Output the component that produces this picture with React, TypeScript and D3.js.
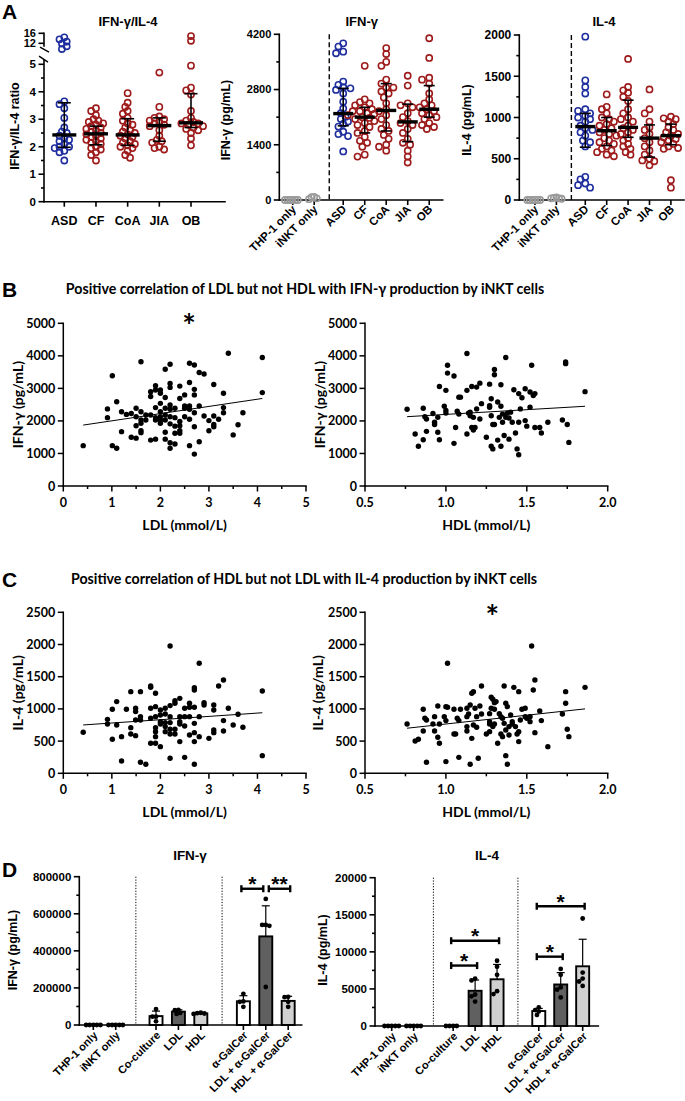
import React from 'react';
import * as d3 from 'd3';

const arial = "'Liberation Sans', Arial, sans-serif";
const cal = "Lato, 'Open Sans', sans-serif";
const BLUE = '#1f2e9e';
const RED = '#9e1b1b';
const GREY = '#9a9a9a';

// ---------- panel A ----------
const groupsA = ['ASD', 'CF', 'CoA', 'JIA', 'OB'];
const ctrlA = ['THP-1 only', 'iNKT only'];

const ratioASD = [14.4, 13.6, 12.7, 11.9, 10.8, 9.7, 3.65, 3.55, 3.4, 3.05, 2.7, 2.55, 2.5, 2.4, 2.3, 2.25, 2.2, 2.1, 2.0, 2.0, 1.95, 1.85, 1.8, 1.5];
const ratioCF = [3.4, 3.3, 3.15, 3.0, 2.95, 2.9, 2.85, 2.8, 2.75, 2.7, 2.65, 2.6, 2.55, 2.5, 2.45, 2.4, 2.35, 2.3, 2.25, 2.2, 2.15, 2.1, 2.0, 1.95, 1.9, 1.8, 1.7, 1.5];
const ratioCoA = [3.95, 3.6, 3.45, 3.3, 3.2, 3.05, 2.95, 2.85, 2.8, 2.7, 2.6, 2.55, 2.5, 2.45, 2.4, 2.35, 2.3, 2.2, 2.15, 2.1, 2.05, 2.0, 1.95, 1.85, 1.7, 1.6];
const ratioJIA = [4.7, 3.45, 3.1, 3.05, 3.0, 2.95, 2.9, 2.85, 2.8, 2.75, 2.6, 2.4, 2.25, 2.2, 2.15, 2.0, 1.95, 1.9];
const ratioOB = [14.9, 13.0, 4.95, 4.15, 4.05, 3.9, 3.3, 3.05, 2.95, 2.9, 2.85, 2.85, 2.8, 2.75, 2.7, 2.65, 2.6, 2.5, 2.3, 2.05];
const ratioMed = [2.43, 2.47, 2.43, 2.77, 2.87];
const ratioQ1 = [1.98, 2.07, 2.05, 2.2, 2.7];
const ratioQ3 = [3.6, 2.75, 3.02, 3.05, 3.93];

const ifnTHP = [0, 0, 0, 0, 0, 0];
const ifnINKT = [20, 40, 70, 80];
const ifnASD = [3970, 3890, 3760, 3720, 3000, 2920, 2860, 2830, 2790, 2700, 2490, 2320, 2200, 2110, 2050, 1990, 1930, 1860, 1730, 1670, 1620, 1230];
const ifnCF = [3400, 2550, 2480, 2450, 2400, 2350, 2300, 2250, 2250, 2200, 2180, 2150, 2100, 2080, 2050, 2000, 1950, 1900, 1850, 1750, 1700, 1600, 1500, 1450, 1350, 1150, 1100];
const ifnCoA = [3850, 3700, 3500, 3400, 3050, 2950, 2850, 2850, 2750, 2700, 2600, 2450, 2300, 2250, 2150, 2050, 1900, 1800, 1750, 1650, 1550, 1400, 1350, 1250];
const ifnJIA = [3150, 2900, 2450, 2400, 2350, 2200, 2100, 2000, 1950, 1900, 1800, 1700, 1550, 1450, 1400, 1250, 1100, 950];
const ifnOB = [4100, 3600, 3100, 3050, 2950, 2700, 2550, 2450, 2400, 2350, 2300, 2250, 2200, 2150, 2100, 2050, 1950, 1900, 1850, 1800];
const ifnMed = [2190, 2100, 2270, 1980, 2300];
const ifnQ1 = [1880, 1700, 1750, 1480, 2100];
const ifnQ3 = [2830, 2350, 2950, 2430, 2900];

const il4THP = [0, 0, 0, 0, 0, 0];
const il4INKT = [15, 20, 25, 30, 20];
const il4ASD = [1980, 1450, 1370, 1290, 1100, 1080, 1050, 1020, 1000, 980, 950, 900, 870, 850, 820, 780, 720, 700, 650, 280, 250, 200, 180, 150];
const il4CF = [1280, 1130, 1100, 1050, 1000, 980, 950, 920, 900, 870, 850, 820, 800, 780, 750, 720, 700, 680, 650, 620, 600, 580, 550, 530];
const il4CoA = [1710, 1370, 1330, 1300, 1250, 1200, 1100, 1050, 1000, 980, 950, 900, 870, 850, 820, 800, 750, 720, 680, 650, 620, 580, 550];
const il4JIA = [1340, 1100, 1050, 950, 880, 850, 800, 750, 700, 650, 600, 550, 500, 480, 470, 420];
const il4OB = [1010, 990, 980, 950, 920, 880, 850, 820, 800, 780, 760, 740, 720, 700, 680, 650, 630, 620, 240, 150];
const il4Med = [890, 840, 880, 750, 780];
const il4Q1 = [640, 660, 760, 520, 670];
const il4Q3 = [1050, 1000, 1210, 910, 920];

// ---------- panels B / C : [mmol/L, pg/mL] ----------
const ldlIfn = [
  [0.41, 1240], [0.91, 2370], [0.91, 2100], [1.01, 3390], [1.01, 1240], [1.1, 2590], [1.1, 1160], [1.2, 2280], [1.2, 1670],
  [1.3, 2200], [1.4, 2230], [1.4, 1500], [1.5, 2390], [1.5, 2130], [1.5, 1850], [1.5, 1470], [1.6, 3820], [1.6, 2280],
  [1.6, 2030], [1.6, 1930], [1.6, 1700], [1.6, 1640], [1.7, 2180], [1.7, 2030], [1.8, 2900], [1.8, 2750], [1.8, 2180],
  [1.8, 1410], [1.9, 3080], [1.9, 2950], [1.9, 2410], [1.9, 2100], [1.9, 2030], [1.9, 1440], [2.0, 2950], [2.0, 2850],
  [2.0, 2540], [2.0, 2280], [2.0, 2130], [2.0, 2030], [2.0, 1930], [2.1, 3590], [2.1, 2720], [2.1, 2390], [2.1, 2180],
  [2.1, 2030], [2.1, 1650], [2.1, 1440], [2.2, 3740], [2.2, 3150], [2.2, 3030], [2.2, 2490], [2.2, 2360], [2.2, 2130],
  [2.2, 1910], [2.2, 1330], [2.2, 1160], [2.3, 2390], [2.3, 2100], [2.3, 1840], [2.3, 1620], [2.3, 1290], [2.4, 3070],
  [2.4, 2690], [2.4, 1980], [2.4, 1850], [2.4, 1700], [2.4, 1620], [2.5, 2800], [2.5, 2460], [2.5, 2390], [2.5, 2130],
  [2.6, 3770], [2.6, 3180], [2.6, 2460], [2.6, 2360], [2.6, 2050], [2.6, 1240], [2.7, 3720], [2.7, 2970], [2.7, 2800],
  [2.7, 2250], [2.7, 1820], [2.7, 980], [2.8, 3490], [2.8, 2460], [2.8, 1360], [2.9, 3440], [2.9, 2150], [3.0, 2010],
  [3.0, 1700], [3.1, 3120], [3.1, 2150], [3.1, 1890], [3.1, 1820], [3.2, 2050], [3.3, 2850], [3.3, 2410], [3.3, 2250],
  [3.4, 4080], [3.5, 1570], [3.6, 1880], [3.7, 2250], [4.1, 3950], [4.1, 2870],
];
const hdlIfn = [
  [0.76, 2360], [0.81, 1600], [0.83, 1220], [0.86, 1420], [0.86, 2390], [0.87, 2130], [0.88, 2060], [0.88, 1680],
  [0.92, 2230], [0.93, 1960], [0.93, 1890], [0.95, 1650], [0.95, 2110], [0.96, 3060], [0.96, 1420], [0.99, 2450],
  [1.0, 2940], [1.0, 2320], [1.0, 2240], [1.01, 3710], [1.01, 3470], [1.05, 3380], [1.05, 1310], [1.06, 1800],
  [1.07, 2300], [1.08, 2730], [1.09, 2730], [1.08, 2210], [1.13, 2940], [1.13, 4070], [1.13, 1600], [1.14, 2240],
  [1.15, 2160], [1.15, 2270], [1.16, 1800], [1.16, 3060], [1.17, 2110], [1.17, 1720], [1.18, 1800], [1.19, 2370],
  [1.19, 3040], [1.21, 3160], [1.21, 2060], [1.22, 2530], [1.25, 1500], [1.27, 3130], [1.27, 2470], [1.27, 2420],
  [1.28, 2680], [1.28, 2160], [1.28, 1220], [1.29, 1890], [1.29, 1140], [1.3, 3420], [1.3, 3580], [1.3, 1890],
  [1.32, 2580], [1.32, 1410], [1.33, 2110], [1.34, 2450], [1.34, 3110], [1.34, 1220], [1.35, 2210], [1.35, 1960],
  [1.36, 1550], [1.37, 3950], [1.37, 2110], [1.38, 2240], [1.39, 2090], [1.39, 1440], [1.4, 2270], [1.41, 1960],
  [1.42, 2960], [1.43, 1630], [1.44, 1140], [1.45, 1960], [1.45, 960], [1.45, 2840], [1.46, 2370], [1.47, 2710],
  [1.49, 2990], [1.49, 2010], [1.5, 1840], [1.52, 2420], [1.52, 2890], [1.53, 3710], [1.54, 2780], [1.55, 2840],
  [1.55, 1800], [1.58, 1800], [1.59, 1630], [1.63, 1960], [1.72, 2030], [1.74, 3810], [1.74, 3760], [1.75, 1890],
  [1.76, 1340], [1.86, 2900],
];
const ldlIl4 = [
  [0.41, 637], [0.91, 838], [0.91, 766], [1.01, 994], [1.01, 528], [1.1, 1113], [1.1, 750], [1.2, 569], [1.2, 192],
  [1.3, 994], [1.39, 1268], [1.39, 709], [1.39, 611], [1.49, 1009], [1.49, 958], [1.49, 828], [1.49, 585], [1.59, 1268],
  [1.59, 880], [1.59, 828], [1.59, 171], [1.7, 140], [1.8, 1356], [1.8, 1335], [1.8, 1009], [1.8, 854], [1.8, 466],
  [1.9, 1242], [1.9, 1035], [1.9, 880], [1.9, 709], [1.9, 647], [1.9, 569], [1.9, 466], [2.0, 983], [2.0, 906],
  [2.0, 802], [2.0, 766], [2.0, 414], [2.1, 1009], [2.1, 921], [2.1, 787], [2.1, 725], [2.1, 647], [2.2, 1977],
  [2.2, 1051], [2.2, 880], [2.2, 787], [2.2, 683], [2.2, 611], [2.2, 233], [2.3, 1128], [2.3, 1087], [2.3, 683],
  [2.3, 611], [2.4, 1164], [2.4, 880], [2.4, 802], [2.4, 766], [2.4, 492], [2.5, 1009], [2.5, 880], [2.5, 735],
  [2.5, 248], [2.6, 1087], [2.6, 1025], [2.6, 880], [2.6, 595], [2.7, 1330], [2.7, 1294], [2.7, 1025], [2.7, 776],
  [2.7, 631], [2.7, 492], [2.7, 140], [2.8, 1708], [2.8, 880], [2.8, 569], [2.9, 1097], [2.9, 1061], [3.0, 543],
  [3.1, 1061], [3.1, 983], [3.1, 673], [3.1, 631], [3.2, 1356], [3.3, 1449], [3.3, 818], [3.3, 657], [3.4, 1009],
  [3.5, 750], [3.6, 916], [3.7, 714], [4.1, 1278], [4.1, 274],
];
const hdlIl4 = [
  [0.76, 766], [0.81, 502], [0.83, 528], [0.86, 994], [0.86, 657], [0.87, 854], [0.88, 828], [0.88, 171], [0.92, 766],
  [0.93, 880], [0.93, 657], [0.95, 1045], [0.95, 559], [0.96, 466], [0.96, 766], [0.99, 880], [1.0, 1035], [1.0, 818],
  [1.0, 181], [1.01, 1708], [1.01, 1025], [1.05, 994], [1.05, 611], [1.06, 611], [1.07, 854], [1.08, 818], [1.08, 248],
  [1.09, 994], [1.13, 1009], [1.13, 880], [1.13, 725], [1.13, 657], [1.14, 921], [1.15, 1061], [1.15, 140], [1.16, 1242],
  [1.16, 543], [1.17, 1268], [1.17, 750], [1.18, 1009], [1.19, 880], [1.19, 714], [1.2, 233], [1.21, 1045], [1.22, 921],
  [1.22, 1356], [1.25, 611], [1.27, 802], [1.27, 926], [1.27, 766], [1.27, 647], [1.28, 1180], [1.28, 1009], [1.29, 1149],
  [1.29, 725], [1.3, 1097], [1.3, 994], [1.3, 766], [1.31, 1113], [1.32, 466], [1.33, 926], [1.34, 880], [1.34, 611],
  [1.35, 854], [1.35, 569], [1.36, 1356], [1.36, 776], [1.37, 1087], [1.37, 673], [1.37, 274], [1.38, 1035], [1.38, 140],
  [1.39, 725], [1.39, 595], [1.4, 906], [1.41, 802], [1.41, 766], [1.42, 1335], [1.43, 725], [1.44, 611], [1.45, 1268],
  [1.45, 492], [1.45, 647], [1.46, 828], [1.47, 994], [1.49, 1009], [1.49, 880], [1.5, 854], [1.52, 802], [1.52, 880],
  [1.53, 1977], [1.54, 1294], [1.55, 1449], [1.55, 631], [1.58, 968], [1.59, 818], [1.63, 414], [1.72, 921], [1.74, 1268],
  [1.74, 1087], [1.75, 683], [1.76, 569], [1.86, 1335],
];
// regression lines: [intercept, slope]
const fitLdlIfn = [1781, 221.6];
const fitHdlIfn = [1909, 291];
const fitLdlIl4 = [729.5, 51.4];
const fitHdlIl4 = [493, 272.7];

// ---------- panel D ----------
const labelsD = ['THP-1 only', 'iNKT only', 'Co-culture', 'LDL', 'HDL', 'α-GalCer', 'LDL + α-GalCer', 'HDL + α-GalCer'];
const fillD = ['#fff', '#fff', '#fff', '#606060', '#d0d0d0', '#fff', '#606060', '#d0d0d0'];
const ifnDMean = [1000, 1000, 48000, 72000, 63000, 128000, 478000, 130000];
const ifnDSD = [0, 0, 27000, 10000, 3000, 30000, 165000, 25000];
const ifnDPts = [
  [0, 0, 0, 0, 0], [0, 0, 0, 0, 0], [86000, 45000, 45000, 20000], [82000, 80000, 65000, 60000],
  [66000, 64000, 62000, 60000], [168000, 127000, 125000, 98000], [680000, 540000, 540000, 535000, 205000],
  [152000, 150000, 125000, 98000],
];
const il4DMean = [0, 0, 0, 4750, 6300, 2020, 5600, 8050];
const il4DSD = [0, 0, 0, 1450, 2000, 350, 1600, 3650];
const il4DPts = [
  [0, 0, 0, 0, 0], [0, 0, 0, 0, 0], [0, 0, 0, 0], [6400, 6150, 4250, 3300, 4000], [8800, 8000, 6900, 4300, 4700],
  [2500, 2150, 1950, 1500], [7700, 6900, 4900, 3850, 5200], [14500, 7200, 6400, 5400, 6000],
];
const ifnDSig = [{ a: 5, b: 6, y: 735000, lab: '*' }, { a: 6, b: 7, y: 735000, lab: '**' }];
const il4DSig = [
  { a: 2, b: 4, y: 11500, lab: '*' }, { a: 2, b: 3, y: 8150, lab: '*' },
  { a: 5, b: 7, y: 16150, lab: '*' }, { a: 5, b: 6, y: 9350, lab: '*' },
];

// ---------- helpers ----------
type Placed = { v: number; py: number; dx: number };
function dodge(vals: number[], y: (v: number) => number, dmin: number, step: number): Placed[] {
  const items = vals.map((v) => ({ v, py: y(v), dx: 0 })).sort((a, b) => a.py - b.py);
  const placed: Placed[] = [];
  for (const it of items) {
    for (let k = 0; k < 60; k++) {
      const off = (k % 2 === 0 ? 1 : -1) * Math.ceil(k / 2) * step;
      if (placed.every((p) => Math.hypot(p.dx - off, p.py - it.py) >= dmin)) {
        it.dx = off;
        break;
      }
    }
    placed.push(it);
  }
  return items;
}

function YAxis({ x, y, major, minor = [], fmt = (t: number) => String(t), fs = 11, font = arial, sw = 1.6, from, to }: any) {
  const dom = y.domain();
  const y0 = y(from ?? dom[0]);
  const y1 = y(to ?? dom[1]);
  return (
    <g>
      <line x1={x} x2={x} y1={y0} y2={y1} stroke="#000" strokeWidth={sw} strokeLinecap="square" />
      {minor.map((t: number) => (
        <line key={'m' + t} x1={x - 3} x2={x} y1={y(t)} y2={y(t)} stroke="#000" strokeWidth={sw} />
      ))}
      {major.map((t: number) => (
        <g key={t}>
          <line x1={x - 5.5} x2={x} y1={y(t)} y2={y(t)} stroke="#000" strokeWidth={sw} />
          <text x={x - 8} y={y(t)} dy="0.36em" textAnchor="end" fontFamily={font} fontWeight="bold" fontSize={fs}>
            {fmt(t)}
          </text>
        </g>
      ))}
    </g>
  );
}

function XLine({ x0, x1, y, ticks, sw = 1.6, len = 5 }: any) {
  return (
    <g>
      <line x1={x0} x2={x1} y1={y} y2={y} stroke="#000" strokeWidth={sw} strokeLinecap="square" />
      {ticks.map((t: any, i: number) => (
        <line key={i} x1={t.x} x2={t.x} y1={y} y2={y + (t.len ?? len)} stroke="#000" strokeWidth={sw} />
      ))}
    </g>
  );
}

function Rotated({ x, y, text, fs, font = arial }: any) {
  return (
    <text transform={`translate(${x},${y}) rotate(-45)`} textAnchor="end" fontFamily={font} fontWeight="bold" fontSize={fs}>
      {text}
    </text>
  );
}

function VLabel({ x, y, text, fs, font = arial }: any) {
  return (
    <text transform={`translate(${x},${y}) rotate(-90)`} textAnchor="middle" dy="0.35em" fontFamily={font} fontWeight="bold" fontSize={fs}>
      {text}
    </text>
  );
}

function Swarm({ vals, cx, y, color, r = 3.1, step = 2.4, dmin = 5.2 }: any) {
  return (
    <g>
      {dodge(vals, y, dmin, step).map((p, i) => (
        <circle key={i} cx={cx + p.dx} cy={p.py} r={r} fill="none" stroke={color} strokeWidth={1.6} />
      ))}
    </g>
  );
}

function MedIqr({ cx, y, med, q1, q3, w = 22, cap = 12 }: any) {
  return (
    <g stroke="#000">
      <line x1={cx} x2={cx} y1={y(q1)} y2={y(q3)} strokeWidth={1.6} />
      <line x1={cx - cap / 2} x2={cx + cap / 2} y1={y(q1)} y2={y(q1)} strokeWidth={1.6} />
      <line x1={cx - cap / 2} x2={cx + cap / 2} y1={y(q3)} y2={y(q3)} strokeWidth={1.6} />
      <line x1={cx - w / 2} x2={cx + w / 2} y1={y(med)} y2={y(med)} strokeWidth={3.4} />
    </g>
  );
}

function Star({ x, cy, text, fs, font = arial }: any) {
  return (
    <text x={x} y={cy + fs * 0.55} textAnchor="middle" fontFamily={font} fontWeight="bold" fontSize={fs} stroke="none" fill="#000">
      {text}
    </text>
  );
}

// ---------- panel A ----------
function PanelA1() {
  const lower = d3.scaleLinear().domain([0, 5]).range([201.7, 64.3]);
  const upper = d3.scaleLinear().domain([12, 16]).range([43.3, 33.3]);
  const y = (v: number) => (v > 6 ? upper(v) : lower(v));
  const x = d3.scaleLinear().domain([0, 4]).range([64.3, 191]);
  const ax = 44;
  const sets = [ratioASD, ratioCF, ratioCoA, ratioJIA, ratioOB];
  return (
    <g>
      <text x={128} y={26} textAnchor="middle" fontFamily={arial} fontWeight="bold" fontSize={13}>IFN-γ/IL-4</text>
      <YAxis x={ax} y={lower} from={0} to={5.15} major={[0, 1, 2, 3, 4, 5]} minor={d3.range(0.5, 5, 1)} fs={11.5} />
      {/* upper segment of the broken axis */}
      <line x1={ax} x2={ax} y1={upper(16)} y2={upper(10.9)} stroke="#000" strokeWidth={1.6} strokeLinecap="square" />
      {[12, 16].map((t) => (
        <g key={t}>
          <line x1={ax - 5.5} x2={ax} y1={upper(t)} y2={upper(t)} stroke="#000" strokeWidth={1.6} />
          <text x={ax - 8} y={upper(t)} dy="0.36em" textAnchor="end" fontFamily={arial} fontWeight="bold" fontSize={11}>{t}</text>
        </g>
      ))}
      <line x1={ax - 4} x2={ax + 5} y1={upper(10.9) + 1} y2={upper(10.9) + 6} stroke="#000" strokeWidth={1.4} />
      <line x1={ax - 5} x2={ax + 4} y1={lower(5.15) - 4} y2={lower(5.15) + 2} stroke="#000" strokeWidth={1.4} />
      <XLine x0={ax} x1={225} y={201.7} ticks={groupsA.map((_, i) => ({ x: x(i) }))} />
      {groupsA.map((g, i) => (
        <text key={g} x={x(i)} y={225} textAnchor="middle" fontFamily={arial} fontWeight="bold" fontSize={12.5}>{g}</text>
      ))}
      {sets.map((s, i) => (
        <Swarm key={i} vals={s} cx={x(i)} y={y} color={i === 0 ? BLUE : RED} dmin={4.6} />
      ))}
      {groupsA.map((_, i) => (
        <MedIqr key={i} cx={x(i)} y={y} med={ratioMed[i]} q1={ratioQ1[i]} q3={ratioQ3[i]} w={24} cap={13} />
      ))}
      <VLabel x={15} y={126} text="IFN-γ/IL-4 ratio" fs={12.5} />
    </g>
  );
}

function PanelConc({ ax, xEnd, x0, step, yTop, major, minor, ctrl, sets, med, q1, q3, title, titleX, ylab, ylabX, fs, catFs }: any) {
  const y = d3.scaleLinear().domain([0, major[major.length - 1]]).range([200, yTop]);
  const slots = [0, 1, 2.35, 3.35, 4.35, 5.35, 6.35];
  const x = d3.scaleLinear().domain([0, 1]).range([x0, x0 + step]);
  const cats = [...ctrlA, ...groupsA];
  const sep = x(1.7);
  return (
    <g>
      <text x={titleX} y={26} textAnchor="middle" fontFamily={arial} fontWeight="bold" fontSize={13}>{title}</text>
      <YAxis x={ax} y={y} major={major} minor={minor} fs={fs} />
      <XLine x0={ax} x1={xEnd} y={200} ticks={slots.map((s) => ({ x: x(s) }))} />
      <line x1={sep} x2={sep} y1={yTop} y2={200} stroke="#000" strokeWidth={1.4} strokeDasharray="5,3" />
      {cats.map((c, i) => (
        <Rotated key={c} x={x(slots[i]) + 4} y={210} text={c} fs={catFs} />
      ))}
      {ctrl.map((s: number[], i: number) => (
        <Swarm key={'c' + i} vals={s} cx={x(slots[i])} y={y} color={GREY} step={1.3} dmin={2.6} />
      ))}
      {sets.map((s: number[], i: number) => (
        <Swarm key={i} vals={s} cx={x(slots[i + 2])} y={y} color={i === 0 ? BLUE : RED} />
      ))}
      {groupsA.map((_, i) => (
        <MedIqr key={i} cx={x(slots[i + 2])} y={y} med={med[i]} q1={q1[i]} q3={q3[i]} w={20} cap={11} />
      ))}
      <VLabel x={ylabX} y={120} text={ylab} fs={12.5} />
    </g>
  );
}

// ---------- panels B / C ----------
function Scatter({ pts, fit, xDom, xRange, xMajor, xMinor, xFmt, yDom, yRange, yMajor, yMinor, xlab, ylab, ylabX, star }: any) {
  const x = d3.scaleLinear().domain(xDom).range(xRange);
  const y = d3.scaleLinear().domain(yDom).range(yRange);
  const xs = pts.map((p: number[]) => p[0]);
  const [lo, hi] = d3.extent(xs) as [number, number];
  const y0 = yRange[0];
  return (
    <g>
      <YAxis x={xRange[0]} y={y} major={yMajor} minor={yMinor} fs={12.5} font={cal} sw={1.5} />
      <line x1={xRange[0]} x2={xRange[1]} y1={y0} y2={y0} stroke="#000" strokeWidth={1.5} strokeLinecap="square" />
      {xMinor.map((t: number) => (
        <line key={'m' + t} x1={x(t)} x2={x(t)} y1={y0} y2={y0 + 3} stroke="#000" strokeWidth={1.5} />
      ))}
      {xMajor.map((t: number) => (
        <g key={t}>
          <line x1={x(t)} x2={x(t)} y1={y0} y2={y0 + 5.5} stroke="#000" strokeWidth={1.5} />
          <text x={x(t)} y={y0 + 21} textAnchor="middle" fontFamily={cal} fontWeight="bold" fontSize={12.5}>{xFmt(t)}</text>
        </g>
      ))}
      {pts.map((p: number[], i: number) => (
        <circle key={i} cx={x(p[0])} cy={y(p[1])} r={2.7} fill="#000" />
      ))}
      <line x1={x(lo)} x2={x(hi)} y1={y(fit[0] + fit[1] * lo)} y2={y(fit[0] + fit[1] * hi)} stroke="#000" strokeWidth={1} />
      <text x={(xRange[0] + xRange[1]) / 2} y={y0 + 44} textAnchor="middle" fontFamily={cal} fontWeight="bold" fontSize={14}>{xlab}</text>
      <VLabel x={ylabX} y={(yRange[0] + yRange[1]) / 2} text={ylab} fs={14} font={cal} />
      {star && <Star x={star[0]} cy={star[1]} text="*" fs={32} font={cal} />}
    </g>
  );
}

// ---------- panel D ----------
function BarPanel({ ax, xEnd, y0, yTop, x0, step, yMax, major, minor, means, sds, pts, sig, title, titleX, ylab, ylabX, fmt }: any) {
  const y = d3.scaleLinear().domain([0, yMax]).range([y0, yTop]);
  const slots = [0, 1, 2.8, 3.8, 4.8, 6.7, 7.7, 8.7];
  const x = d3.scaleLinear().domain([0, 1]).range([x0, x0 + step]);
  const bw = 13;
  return (
    <g>
      <text x={titleX} y={860} textAnchor="middle" fontFamily={arial} fontWeight="bold" fontSize={13.5}>{title}</text>
      {[1.9, 5.75].map((s) => (
        <line key={s} x1={x(s)} x2={x(s)} y1={yTop} y2={y0} stroke="#000" strokeWidth={1} strokeDasharray="1.2,1.6" />
      ))}
      {means.map((m: number, i: number) =>
        m > yMax * 0.01 ? (
          <rect key={'b' + i} x={x(slots[i]) - bw / 2} y={y(m)} width={bw} height={y0 - y(m)} fill={fillD[i]} stroke="#000" strokeWidth={1.9} />
        ) : null
      )}
      {means.map((m: number, i: number) =>
        sds[i] > 0 ? (
          <g key={'e' + i} stroke="#000" strokeWidth={1.2}>
            <line x1={x(slots[i])} x2={x(slots[i])} y1={y(m)} y2={y(m + sds[i])} />
            <line x1={x(slots[i]) - 4} x2={x(slots[i]) + 4} y1={y(m + sds[i])} y2={y(m + sds[i])} />
          </g>
        ) : null
      )}
      {pts.map((ps: number[], i: number) => (
        <g key={'p' + i}>
          {dodge(ps, y, 3.6, 1.8).map((p, j) => (
            <circle key={j} cx={x(slots[i]) + p.dx} cy={p.py} r={2.4} fill="#000" />
          ))}
        </g>
      ))}
      <YAxis x={ax} y={y} major={major} minor={minor} fs={11.5} fmt={fmt} />
      <XLine x0={ax} x1={xEnd} y={y0} ticks={slots.map((s) => ({ x: x(s) }))} />
      {labelsD.map((c, i) => (
        <Rotated key={c} x={x(slots[i]) + 5} y={y0 + 11} text={c} fs={11} />
      ))}
      {sig.map((s: any, i: number) => {
        const xa = x(slots[s.a]) + (sig.some((o: any) => o.b === s.a && o.y === s.y) ? 3 : -2);
        const xb = x(slots[s.b]) + (sig.some((o: any) => o.a === s.b && o.y === s.y) ? -2.5 : 2);
        const yy = y(s.y);
        return (
          <g key={'s' + i}>
            <g stroke="#000" strokeWidth={2.4}>
              <line x1={xa} x2={xb} y1={yy} y2={yy} />
              <line x1={xa} x2={xa} y1={yy - 3.5} y2={yy + 3.5} />
              <line x1={xb} x2={xb} y1={yy - 3.5} y2={yy + 3.5} />
            </g>
            <Star x={(xa + xb) / 2} cy={yy - 9} text={s.lab} fs={21} />
          </g>
        );
      })}
      <VLabel x={ylabX} y={950} text={ylab} fs={12.5} />
    </g>
  );
}

export default function App() {
  return (
    <svg width={685} height={1101} viewBox="0 0 685 1101" style={{ position: 'absolute', left: 0, top: 0, background: '#fff' }}>
      <rect width={685} height={1101} fill="#fff" />
      <text x={2} y={19} fontFamily={arial} fontWeight="bold" fontSize={21}>A</text>
      <PanelA1 />
      <PanelConc ax={279.3} xEnd={442.7} x0={292.7} step={21.5} yTop={34.3} major={[0, 1400, 2800, 4200]} minor={[700, 2100, 3500]}
        ctrl={[ifnTHP, ifnINKT]} sets={[ifnASD, ifnCF, ifnCoA, ifnJIA, ifnOB]} med={ifnMed} q1={ifnQ1} q3={ifnQ3}
        title="IFN-γ" titleX={361.7} ylab="IFN-γ (pg/mL)" ylabX={226} fs={11} catFs={11.5} />
      <PanelConc ax={519.3} xEnd={684} x0={535} step={21.4} yTop={35} major={[0, 500, 1000, 1500, 2000]} minor={[250, 750, 1250, 1750]}
        ctrl={[il4THP, il4INKT]} sets={[il4ASD, il4CF, il4CoA, il4JIA, il4OB]} med={il4Med} q1={il4Q1} q3={il4Q3}
        title="IL-4" titleX={604} ylab="IL-4 (pg/mL)" ylabX={466.7} fs={12} catFs={11.5} />

      <text x={2} y={297} fontFamily={arial} fontWeight="bold" fontSize={21}>B</text>
      <text x={305} y={294} textAnchor="middle" fontFamily={cal} fontWeight="bold" fontSize={14.2}>
        Positive correlation of LDL but not HDL with IFN-γ production by iNKT cells
      </text>
      <Scatter pts={ldlIfn} fit={fitLdlIfn} xDom={[0, 5]} xRange={[63.3, 306]} xMajor={[0, 1, 2, 3, 4, 5]} xMinor={d3.range(0.5, 5, 1)}
        xFmt={(t: number) => String(t)} yDom={[0, 5000]} yRange={[486, 323.3]} yMajor={[0, 1000, 2000, 3000, 4000, 5000]} yMinor={[]}
        xlab="LDL (mmol/L)" ylab="IFN-γ (pg/mL)" ylabX={18} star={[189, 320]} />
      <Scatter pts={hdlIfn} fit={fitHdlIfn} xDom={[0.5, 2]} xRange={[365, 607.7]} xMajor={[0.5, 1, 1.5, 2]} xMinor={[0.75, 1.25, 1.75]}
        xFmt={d3.format('.1f')} yDom={[0, 5000]} yRange={[486, 323.3]} yMajor={[0, 1000, 2000, 3000, 4000, 5000]} yMinor={[]}
        xlab="HDL (mmol/L)" ylab="IFN-γ (pg/mL)" ylabX={320} />

      <text x={2} y={587} fontFamily={arial} fontWeight="bold" fontSize={21}>C</text>
      <text x={304} y={584} textAnchor="middle" fontFamily={cal} fontWeight="bold" fontSize={14.2}>
        Positive correlation of HDL but not LDL with IL-4 production by iNKT cells
      </text>
      <Scatter pts={ldlIl4} fit={fitLdlIl4} xDom={[0, 5]} xRange={[63.3, 306]} xMajor={[0, 1, 2, 3, 4, 5]} xMinor={d3.range(0.5, 5, 1)}
        xFmt={(t: number) => String(t)} yDom={[0, 2500]} yRange={[773.3, 612.3]} yMajor={[0, 500, 1000, 1500, 2000, 2500]} yMinor={[]}
        xlab="LDL (mmol/L)" ylab="IL-4 (pg/mL)" ylabX={18} />
      <Scatter pts={hdlIl4} fit={fitHdlIl4} xDom={[0.5, 2]} xRange={[365, 607.7]} xMajor={[0.5, 1, 1.5, 2]} xMinor={[0.75, 1.25, 1.75]}
        xFmt={d3.format('.1f')} yDom={[0, 2500]} yRange={[773.3, 612.3]} yMajor={[0, 500, 1000, 1500, 2000, 2500]} yMinor={[]}
        xlab="HDL (mmol/L)" ylab="IL-4 (pg/mL)" ylabX={318} star={[492.3, 611.7]} />

      <text x={2} y={877} fontFamily={arial} fontWeight="bold" fontSize={21}>D</text>
      <BarPanel ax={79.3} xEnd={301.7} y0={1025} yTop={876.7} x0={93.3} step={22.4} yMax={800000}
        major={[0, 200000, 400000, 600000, 800000]} minor={[100000, 300000, 500000, 700000]}
        means={ifnDMean} sds={ifnDSD} pts={ifnDPts} sig={ifnDSig} title="IFN-γ" titleX={190} ylab="IFN-γ (pg/mL)" ylabX={13} fmt={(t: number) => String(t)} />
      <BarPanel ax={375} xEnd={598.3} y0={1026} yTop={877.7} x0={391.7} step={21.95} yMax={20000}
        major={[0, 5000, 10000, 15000, 20000]} minor={[2500, 7500, 12500, 17500]}
        means={il4DMean} sds={il4DSD} pts={il4DPts} sig={il4DSig} title="IL-4" titleX={487} ylab="IL-4 (pg/mL)" ylabX={323} fmt={(t: number) => String(t)} />
    </svg>
  );
}
